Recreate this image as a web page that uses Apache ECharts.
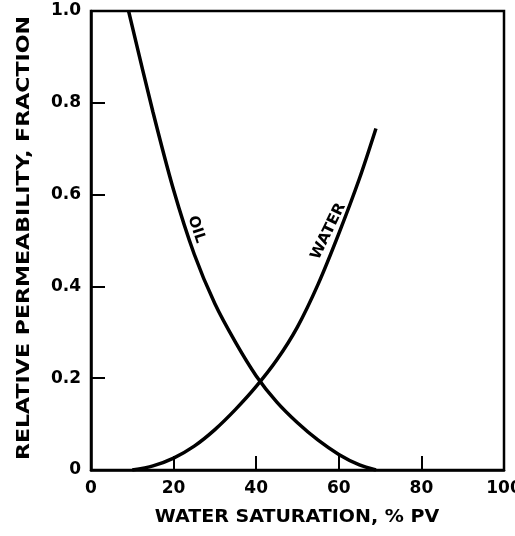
<!DOCTYPE html>
<html>
<head>
<meta charset="utf-8">
<script src="https://cdn.jsdelivr.net/npm/echarts@6/dist/echarts.min.js"></script>
<style>
  html, body { margin: 0; padding: 0; background: #fff; }
  #chart { width: 515px; height: 536px; }
</style>
</head>
<body>
<div id="chart"></div>
<script>
// Relative permeability curves: water saturation (% PV) vs. kr (fraction)
const oilSw   = [9.1, 10, 15, 20, 25, 30, 35, 40, 45, 50, 55, 60, 65, 69];
const oilKr   = [1.0, 0.966, 0.780, 0.610, 0.470, 0.362, 0.278, 0.205, 0.148, 0.103, 0.065, 0.034, 0.011, 0];
const waterSw = [10, 15, 20, 25, 30, 35, 40, 45, 50, 55, 60, 65, 69];
const waterKr = [0, 0.009, 0.026, 0.052, 0.088, 0.132, 0.182, 0.240, 0.312, 0.405, 0.515, 0.635, 0.744];

const xTickLabels = ['0', '20', '40', '60', '80', '100'];
const yTickLabels = ['0', '0.2', '0.4', '0.6', '0.8', '1.0'];
const curveNames  = ['OIL', 'WATER'];
const xTitle = 'WATER SATURATION, % PV';
const yTitle = 'RELATIVE PERMEABILITY, FRACTION';

const FONT = '"DejaVu Sans", sans-serif';
const zip = (xs, ys) => xs.map((x, i) => [x, ys[i]]);

const chart = echarts.init(document.getElementById('chart'), null, { renderer: 'canvas' });

const curveStyle = { color: '#000', width: 3.5 };
const tickLabel = (labels) => ({
  color: '#000', fontFamily: FONT, fontSize: 17, fontWeight: 'bold', margin: 10,
  showMinLabel: true, showMaxLabel: true,
  formatter: (v, i) => labels[i]
});

chart.setOption({
  animation: false,
  backgroundColor: '#fff',
  grid: {
    left: 91, right: 11, top: 11, bottom: 66,
    containLabel: false, outerBoundsMode: 'none',
    show: true, borderColor: '#000', borderWidth: 2.5, backgroundColor: 'transparent'
  },
  xAxis: {
    type: 'value', min: 0, max: 100, interval: 20,
    axisLine: { show: true, onZero: false, lineStyle: { color: '#000', width: 2.5 } },
    axisTick: { show: true, inside: true, length: 14, lineStyle: { color: '#000', width: 2 } },
    splitLine: { show: false },
    axisLabel: tickLabel(xTickLabels)
  },
  yAxis: {
    type: 'value', min: 0, max: 1, interval: 0.2,
    axisLine: { show: true, onZero: false, lineStyle: { color: '#000', width: 2.5 } },
    axisTick: { show: true, inside: true, length: 14, lineStyle: { color: '#000', width: 2 } },
    splitLine: { show: false },
    axisLabel: tickLabel(yTickLabels)
  },
  series: [
    {
      name: curveNames[0], type: 'line', data: zip(oilSw, oilKr),
      smooth: 0.3, symbol: 'none', lineStyle: curveStyle, z: 3
    },
    {
      name: curveNames[1], type: 'line', data: zip(waterSw, waterKr),
      smooth: 0.3, symbol: 'none', lineStyle: curveStyle, z: 3
    }
  ]
});

// Axis titles and in-plot curve labels, placed from data coordinates
const oilPos = chart.convertToPixel({ gridIndex: 0 }, [25.5, 0.524]);
const waterPos = chart.convertToPixel({ gridIndex: 0 }, [57.5, 0.52]);
const deg = Math.PI / 180;

const textEl = (text, x, y, rot, size, sx) => ({
  type: 'text', x, y, rotation: rot, scaleX: sx, scaleY: 1, z: 10,
  style: {
    text, fill: '#000', font: 'bold ' + size + 'px ' + FONT,
    align: 'center', verticalAlign: 'middle'
  }
});

chart.setOption({
  graphic: [
    textEl(xTitle, 297, 518, 0, 17, 1.12),
    textEl(yTitle, 25, 238, 90 * deg, 17, 1.3),
    textEl(curveNames[0], oilPos[0], oilPos[1], -72 * deg, 15, 1.0),
    textEl(curveNames[1], waterPos[0], waterPos[1], 64 * deg, 15, 1.05)
  ]
});
</script>
</body>
</html>
